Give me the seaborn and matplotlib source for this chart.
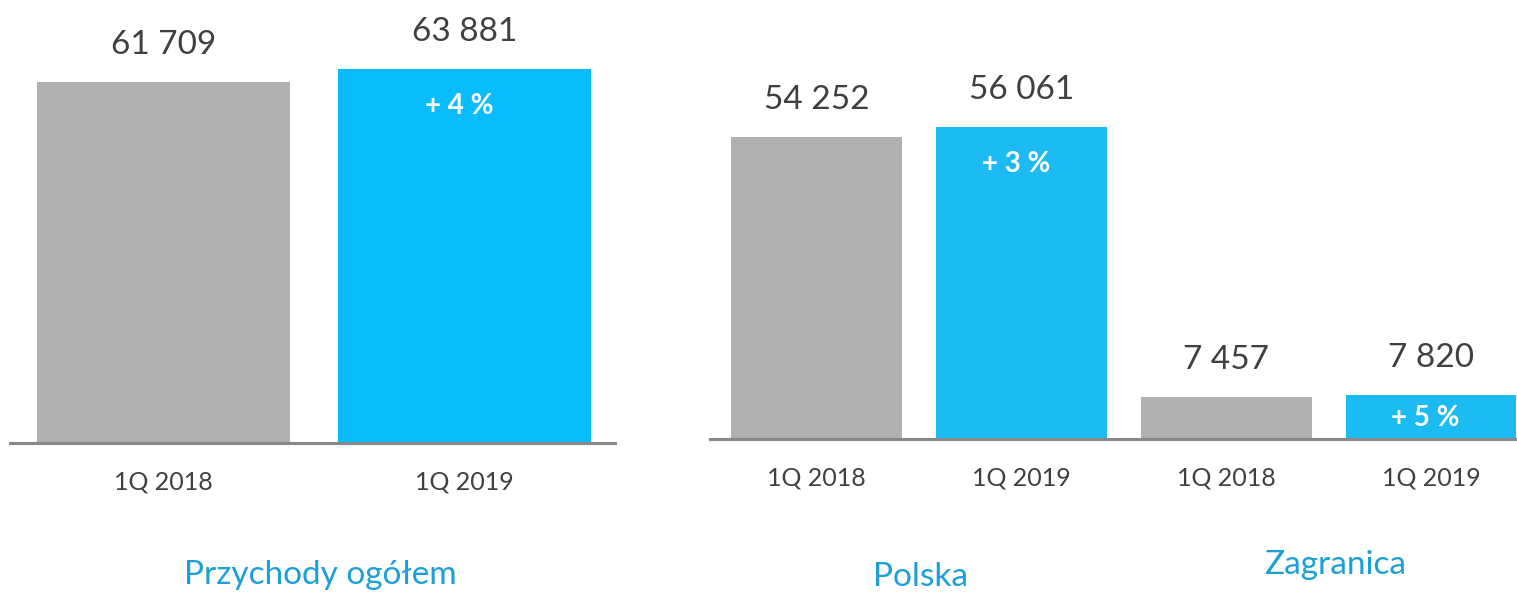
import matplotlib
matplotlib.use('Agg')
import matplotlib.pyplot as plt
import seaborn as sns
import pandas as pd

periods = ['1Q 2018', '1Q 2019']
total = [61709, 63881]
polska = [54252, 56061]
zagranica = [7457, 7820]
titles = ['Przychody ogółem', 'Polska', 'Zagranica']

GRAY = '#b0b0b0'
BLUE_L = '#09bdfd'
BLUE_R = '#1dbbf4'
TEXT = '#404040'
TITLE = '#1ba0d8'
W, H = 1517, 593


def fmt(v):
    return f'{v:,}'.replace(',', ' ')


def growth(a, b):
    return f'+ {round((b / a - 1) * 100)} %'


def draw(ax, values, colors, ymax, width):
    keys = [f'k{i}' for i in range(len(values))]
    df = pd.DataFrame({'key': keys, 'value': values})
    sns.barplot(data=df, x='key', y='value', hue='key', palette=colors,
                legend=False, width=width, saturation=1, linewidth=0, ax=ax)
    ax.set_ylim(0, ymax)
    sns.despine(ax=ax, left=True, top=True, right=True)
    ax.spines['bottom'].set_color('#888888')
    ax.spines['bottom'].set_linewidth(2.2)
    ax.set_yticks([])
    ax.set_xlabel('')
    ax.set_ylabel('')
    ax.tick_params(axis='x', length=0, pad=20, labelsize=18,
                   labelcolor=TEXT)
    ax.set_xticks(range(len(values)))
    ax.set_xticklabels(periods * (len(values) // 2))
    ax.patch.set_alpha(0)
    for i, v in enumerate(values):
        ax.annotate(fmt(v), (i, v), xytext=(0, 16), textcoords='offset points',
                    ha='center', va='bottom', fontsize=24, color=TEXT)


sns.set_theme(style='white')
plt.rcParams['font.family'] = ['Lato', 'DejaVu Sans']

fig = plt.figure(figsize=(W / 100, H / 100), dpi=100)

# left panel: total
ax1 = fig.add_axes([10 / W, (H - 443) / H, 605 / W, 443 / H])
ymax1 = 443 / (361 / total[0])
draw(ax1, total, [GRAY, BLUE_L], ymax1, 0.84)
ax1.set_xlim(-0.51, 1.5)

# right panel: Polska + Zagranica
ax2 = fig.add_axes([710 / W, (H - 439) / H, 807 / W, 439 / H])
vals2 = polska + zagranica
ymax2 = 439 / (302 / polska[0])
draw(ax2, vals2, [GRAY, BLUE_R, GRAY, BLUE_R], ymax2, 0.834)
ax2.set_xlim(-0.52, 3.42)

# growth labels inside blue bars
for ax, ymax, axh, pairs in [(ax1, ymax1, 443, [(1, total)]),
                             (ax2, ymax2, 439, [(1, polska), (3, zagranica)])]:
    for x, pair in pairs:
        bar_px = pair[1] / ymax * axh
        off = min(24, bar_px * 0.22)
        ax.annotate(growth(pair[0], pair[1]), (x, pair[1]),
                    xytext=(-4, -off * 0.72), textcoords='offset points',
                    ha='center', va='top', fontsize=20, fontweight='bold',
                    color='white')

fig.text(320 / W, 1 - 575 / H, titles[0], ha='center', va='center',
         fontsize=24, color=TITLE)
fig.text(920 / W, 1 - 577 / H, titles[1], ha='center', va='center',
         fontsize=24, color=TITLE)
fig.text(1335 / W, 1 - 565 / H, titles[2], ha='center', va='center',
         fontsize=24, color=TITLE)

fig.savefig('out.png', dpi=100, facecolor='white')
